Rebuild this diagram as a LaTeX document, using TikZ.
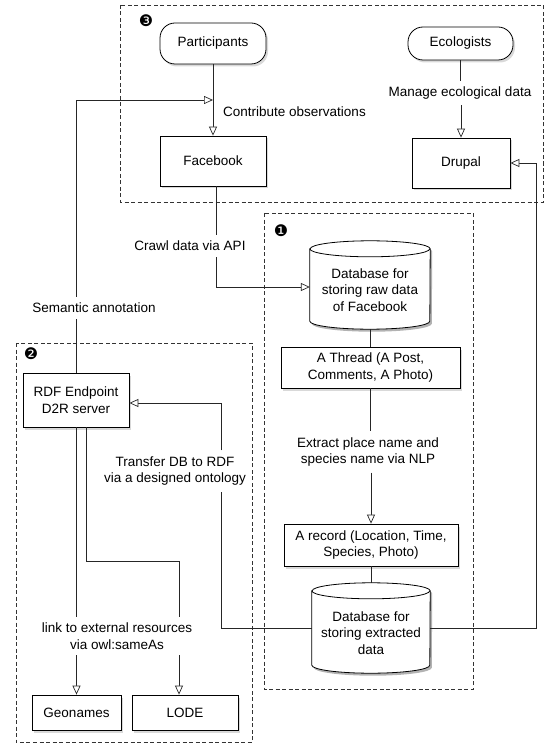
\documentclass[tikz,border=0pt]{standalone}
\usepackage{fontspec}
\setmainfont{Liberation Sans}
\newfontfamily\dingfont{DejaVu Sans}
\usetikzlibrary{arrows.meta,shadows,calc,backgrounds}

\newcommand\dbcyl[2]{%
  \begin{scope}[on background layer]
    \fill[black, opacity=0.3] ($(#1.north west)+(2,10.5)$) -- ($(#1.south west)+(2,-5.5)$)
      arc[start angle=180,end angle=360,x radius=#2pt,y radius=8pt]
      -- ($(#1.north east)+(2,10.5)$)
      arc[start angle=0,end angle=180,x radius=#2pt,y radius=8pt] -- cycle;
    \draw[fill=white, line width=0.8pt] ($(#1.north west)+(0,8)$) -- ($(#1.south west)+(0,-8)$)
      arc[start angle=180,end angle=360,x radius=#2pt,y radius=8pt]
      -- ($(#1.north east)+(0,8)$)
      arc[start angle=0,end angle=180,x radius=#2pt,y radius=8pt] -- cycle;
    \draw[line width=0.8pt] ($(#1.north west)+(0,8)$)
      arc[start angle=180,end angle=360,x radius=#2pt,y radius=8pt];
  \end{scope}}

\begin{document}
\begin{tikzpicture}[x=1pt,y=-1pt,
  txt/.style={font=\fontsize{13.5}{16.5}\selectfont},
  box/.style={txt, draw=black, line width=0.8pt, fill=white, inner sep=0pt, align=center,
    drop shadow={shadow xshift=2pt, shadow yshift=-2.5pt, opacity=0.3}},
  actor/.style={box, rounded corners=15pt},
  dbnode/.style={inner sep=0pt},
  dbtext/.style={txt, inner sep=0pt, align=center},
  lbl/.style={txt, inner xsep=2pt, inner ysep=6pt, align=center},
  conn/.style={draw=black!85, line width=0.7pt},
  arr/.style={conn, -{Triangle[open, length=9pt, width=8pt, fill=white]}},
  group/.style={draw=black!80, line width=0.7pt, dash pattern=on 4pt off 2.5pt},
  num/.style={font=\dingfont\fontsize{16}{16}\selectfont, inner sep=0pt}]

\useasboundingbox (0,0) rectangle (545,743);

% group frames
\draw[group] (120,5) rectangle (543,202);
\draw[group] (264,213) rectangle (473,689);
\draw[group] (16,343) rectangle (252,742);

\node[num] (n3) at (146,21) {❸};
\node[num] (n1) at (281,231) {❶};
\node[num] (n2) at (31,354) {❷};

% nodes
\node[actor, minimum width=106pt, minimum height=41pt] (part) at (213,43.5) {Participants};
\node[actor, minimum width=105pt, minimum height=33pt] (eco) at (460.5,43.5) {Ecologists};
\node[box, minimum width=106pt, minimum height=50pt] (fb) at (213,161) {Facebook};
\node[box, minimum width=98pt, minimum height=50pt] (drupal) at (461,163) {Drupal};

\node[dbnode, minimum width=120pt, minimum height=88pt] (dbraw) at (370,285) {};
\dbcyl{dbraw}{60}
\node[dbtext] (dbrawt) at ([yshift=-5pt]dbraw.center) {Database for\\storing raw data\\of Facebook};

\node[box, minimum width=179pt, minimum height=41pt] (thread) at (370.5,367.5) {A Thread (A Post,\\Comments, A Photo)};
\node[box, minimum width=174pt, minimum height=42pt] (record) at (371,545) {A record (Location, Time,\\Species, Photo)};

\node[dbnode, minimum width=118pt, minimum height=90pt] (dbext) at (371,628) {};
\dbcyl{dbext}{59}
\node[dbtext] (dbextt) at ([yshift=-5pt]dbext.center) {Database for\\storing extracted\\data};

\node[box, minimum width=106pt, minimum height=54pt] (rdf) at (76,400) {RDF Endpoint\\D2R server};
\node[box, minimum width=89pt, minimum height=35pt] (geo) at (76.5,712.5) {Geonames};
\node[box, minimum width=106pt, minimum height=35pt] (lode) at (185,712.5) {LODE};

% labels
\node[lbl] (manage) at (460,93) {Manage ecological data};
\node[lbl, anchor=west] (contrib) at (221,112) {Contribute observations};
\node[lbl] (crawl) at (190,246) {Crawl data via API};
\node[lbl] (sem) at (94,308) {Semantic annotation};
\node[lbl] (extract) at (368,452) {Extract place name and\\species name via NLP};
\node[lbl] (transfer) at (175,471) {Transfer DB to RDF\\via a designed ontology};
\node[lbl] (link) at (117,636) {link to external resources\\via owl:sameAs};

% helper coordinates
\coordinate (j1) at (213,100);
\coordinate (fbx) at ([xshift=3pt]fb.south);
\coordinate (tb) at (221,0);
\coordinate (rr) at (536,0);
\coordinate (r2) at (86,0);
\coordinate (l2) at (179,561);

% connectors
\draw[arr] (part.south) -- (fb.north);
\draw[conn] (rdf.north) -- (rdf.north |- sem.south);
\draw[arr] (rdf.north |- sem.north) |- (j1);

\draw[conn] (eco.south) -- (eco.south |- manage.north);
\draw[arr] (drupal.north |- manage.south) -- (drupal.north);

\draw[conn] (fbx) -- (fbx |- crawl.north);
\draw[arr] (fbx |- crawl.south) |- ([yshift=-2pt]dbraw.west);

\draw[conn] (dbraw.south) -- (dbraw.south |- thread.north);
\draw[conn] (thread.south) -- (thread.south |- extract.north);
\draw[arr] (record.north |- extract.south) -- (record.north);
\draw[conn] (record.south) -- (record.south |- dbext.north);

\draw[conn] (dbext.west) -| (tb |- transfer.south);
\draw[arr] (tb |- transfer.north) |- ([yshift=-3pt]rdf.east);

\draw[arr] (dbext.east) -| (rr |- drupal.east) -- (drupal.east);

\draw[conn] (rdf.south) -- (rdf.south |- link.north);
\draw[arr] (geo.north |- link.south) -- (geo.north);
\draw[conn] (rdf.south -| r2) |- (l2) -- (l2 |- link.north);
\draw[arr] (l2 |- link.south) -- (l2 |- lode.north);

\end{tikzpicture}
\end{document}
